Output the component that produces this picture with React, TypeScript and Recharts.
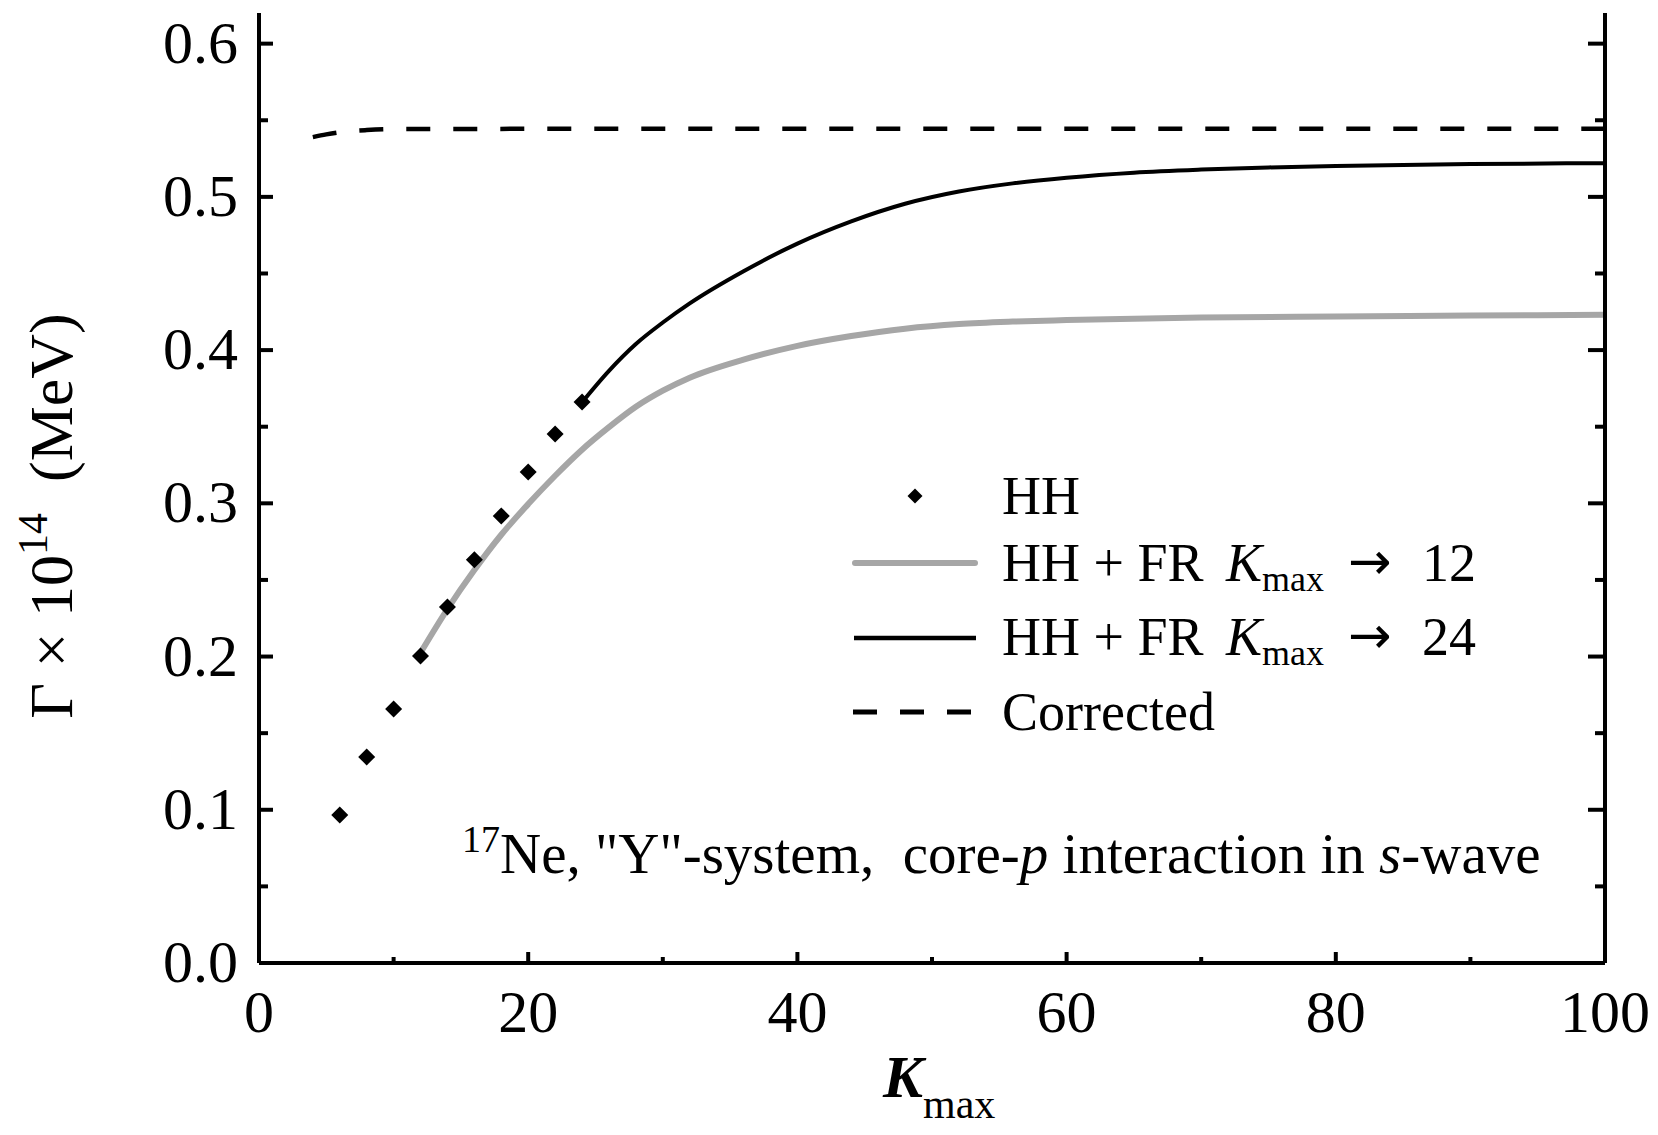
import React from 'react';
import { ComposedChart, Line, Scatter, XAxis, YAxis, Legend, Customized } from 'recharts';

const FONT = '"Liberation Serif", "Times New Roman", Times, serif';

// HH points
const hhK = [6, 8, 10, 12, 14, 16, 18, 20, 22, 24];
const hhValues = [0.0966, 0.1345, 0.1658, 0.2004, 0.2324, 0.2631, 0.2918, 0.3205, 0.3453, 0.3662];

// HH + FR, Kmax -> 12 (gray)
const fr12K = [12, 14, 16, 18, 20, 22, 24, 26, 28, 30, 32, 36, 40, 44, 48, 52, 56, 60, 70, 80, 90, 100];
const fr12Values = [0.2025, 0.231, 0.2565, 0.2795, 0.2995, 0.318, 0.335, 0.3497, 0.363, 0.3735, 0.382, 0.3938, 0.4028, 0.4092, 0.414, 0.417, 0.4186, 0.4196, 0.4212, 0.422, 0.4225, 0.423];

// HH + FR, Kmax -> 24 (black)
const fr24K = [24, 26, 28, 30, 32, 36, 40, 44, 48, 52, 56, 60, 65, 70, 75, 80, 90, 100];
const fr24Values = [0.366, 0.3865, 0.404, 0.418, 0.4305, 0.4515, 0.4695, 0.484, 0.4955, 0.5035, 0.5088, 0.5125, 0.5158, 0.5178, 0.5192, 0.5202, 0.5214, 0.522];

// Corrected (dashed)
const corrK = [4, 5, 6, 8, 10, 15, 20, 100];
const corrValues = [0.539, 0.5408, 0.5422, 0.5436, 0.5442, 0.5443, 0.5444, 0.5445];

// ticks
const xTicks = [0, 10, 20, 30, 40, 50, 60, 70, 80, 90, 100];
const xLabelTicks = [0, 20, 40, 60, 80, 100];
const yTicks = [0, 0.05, 0.1, 0.15, 0.2, 0.25, 0.3, 0.35, 0.4, 0.45, 0.5, 0.55, 0.6];
const yLabelTicks = [0, 0.1, 0.2, 0.3, 0.4, 0.5, 0.6];

const legendItems = [
  { key: 'hh', label: 'HH', kind: 'diamond' },
  { key: 'fr12', label: 'HH + FR', arrowTo: '12', kind: 'gray' },
  { key: 'fr24', label: 'HH + FR', arrowTo: '24', kind: 'black' },
  { key: 'corr', label: 'Corrected', kind: 'dashed' },
];

const toPoints = (ks: number[], vs: number[]) => ks.map((k, i) => ({ k, v: vs[i] }));
const hhData = toPoints(hhK, hhValues);
const fr12Data = toPoints(fr12K, fr12Values);
const fr24Data = toPoints(fr24K, fr24Values);
const corrData = toPoints(corrK, corrValues);

const isYLabel = (v: number) => yLabelTicks.some((t) => Math.abs(t - v) < 1e-9);
const isXLabel = (v: number) => xLabelTicks.includes(v);

const LeftTick = (props: any) => {
  const { x, y, payload } = props;
  const major = isYLabel(payload.value);
  return (
    <g>
      <line x1={x} x2={x + (major ? 14 : 9)} y1={y} y2={y} stroke="#000" strokeWidth={4} />
      {major && (
        <text x={x - 21} y={y + 19} textAnchor="end" fontSize={60} fontFamily={FONT} fill="#000">
          {payload.value.toFixed(1)}
        </text>
      )}
    </g>
  );
};

const RightTick = (props: any) => {
  const { x, y, payload } = props;
  const major = isYLabel(payload.value);
  return <line x1={x} x2={x - (major ? 17 : 10)} y1={y} y2={y} stroke="#000" strokeWidth={4} />;
};

const BottomTick = (props: any) => {
  const { x, y, payload } = props;
  const major = isXLabel(payload.value);
  return (
    <g>
      <line x1={x} x2={x} y1={y} y2={y - (major ? 11 : 6)} stroke="#000" strokeWidth={4} />
      {major && (
        <text x={x} y={y + 69} textAnchor="middle" fontSize={60} fontFamily={FONT} fill="#000">
          {payload.value}
        </text>
      )}
    </g>
  );
};

const Diamond = (props: any) => {
  const { cx, cy } = props;
  const r = 8.5;
  return <polygon points={`${cx},${cy - r} ${cx + r},${cy} ${cx},${cy + r} ${cx - r},${cy}`} fill="#000" />;
};

const YTitle = (props: any) => {
  const vb = props.viewBox || { x: 0, y: 5, width: 251, height: 950 };
  const cx = vb.x + 64;
  const cy = vb.y + vb.height / 2 + 28;
  return (
    <text x={cx} y={cy} transform={`rotate(-90 ${cx} ${cy})`} textAnchor="middle" fontSize={62} fontFamily={FONT} fill="#000">
      <tspan>{'Γ × 10'}</tspan>
      <tspan fontSize={42} dy={-25}>14</tspan>
      <tspan dy={25}>{'\u00A0\u00A0(MeV)'}</tspan>
    </text>
  );
};

const XTitle = (props: any) => {
  const vb = props.viewBox || { x: 251, y: 955, width: 1346, height: 164 };
  const x = vb.x + 624;
  const y = vb.y + 134;
  return (
    <text x={x} y={y} fontFamily={FONT} fill="#000">
      <tspan fontSize={60} fontStyle="italic" fontWeight="bold">K</tspan>
      <tspan fontSize={42} dy={21}>max</tspan>
    </text>
  );
};

const Annotation = () => (
  <text x={454} y={865} fontSize={57} fontFamily={FONT} fill="#000">
    <tspan fontSize={38} dy={-21}>17</tspan>
    <tspan dy={21}>{'Ne, "Y"-system,\u00A0\u00A0core-'}</tspan>
    <tspan fontStyle="italic">p</tspan>
    <tspan>{' interaction in '}</tspan>
    <tspan fontStyle="italic">s</tspan>
    <tspan>-wave</tspan>
  </text>
);

const renderLegend = () => {
  const rowY = [56, 123, 198, 272];
  const baseY = [74, 141, 215, 290];
  return (
    <svg width={720} height={320} style={{ display: 'block', overflow: 'visible' }}>
      {legendItems.map((it, i) => (
        <g key={it.key}>
          {it.kind === 'diamond' && (
            <polygon points={`75,${rowY[i] - 7.5} 82.5,${rowY[i]} 75,${rowY[i] + 7.5} 67.5,${rowY[i]}`} fill="#000" />
          )}
          {it.kind === 'gray' && (
            <line x1={15} x2={135} y1={rowY[i]} y2={rowY[i]} stroke="#a6a6a6" strokeWidth={6} strokeLinecap="round" />
          )}
          {it.kind === 'black' && <line x1={14} x2={136} y1={rowY[i]} y2={rowY[i]} stroke="#000" strokeWidth={4.5} />}
          {it.kind === 'dashed' && (
            <line x1={13} x2={137} y1={rowY[i]} y2={rowY[i]} stroke="#000" strokeWidth={5} strokeDasharray="24 23" />
          )}
          <text x={162} y={baseY[i]} fontSize={54} fontFamily={FONT} fill="#000">
            {it.label}
          </text>
          {it.arrowTo && (
            <>
              <text y={baseY[i]} fontSize={54} fontFamily={FONT} fill="#000">
                <tspan x={386} fontStyle="italic">K</tspan>
                <tspan fontSize={36} dy={10}>max</tspan>
              </text>
              <text x={508} y={baseY[i] - 2} fontSize={52} fontFamily='"DejaVu Sans", sans-serif' fill="#000">→</text>
              <text x={582} y={baseY[i]} fontSize={54} fontFamily={FONT} fill="#000">{it.arrowTo}</text>
            </>
          )}
        </g>
      ))}
    </svg>
  );
};

export default function App() {
  return (
    <div style={{ width: 1642, height: 1119, background: '#fff' }}>
      <ComposedChart width={1642} height={1119} margin={{ top: 5, right: 0, bottom: 0, left: 0 }}>
        <XAxis
          dataKey="k"
          type="number"
          domain={[0, 100]}
          ticks={xTicks}
          interval={0}
          allowDataOverflow
          height={164}
          tickSize={0}
          tickMargin={0}
          tickLine={false}
          tick={<BottomTick />}
          axisLine={{ stroke: '#000', strokeWidth: 4 }}
          label={{ content: XTitle }}
        />
        <XAxis
          xAxisId="top"
          orientation="top"
          type="number"
          domain={[0, 100]}
          allowDataOverflow
          height={0}
          tick={false}
          tickLine={false}
          axisLine={{ stroke: '#000', strokeWidth: 4 }}
        />
        <YAxis
          dataKey="v"
          type="number"
          domain={[0, 0.62]}
          ticks={yTicks}
          interval={0}
          allowDataOverflow
          width={251}
          tickSize={0}
          tickMargin={0}
          tickLine={false}
          tick={<LeftTick />}
          axisLine={{ stroke: '#000', strokeWidth: 4 }}
          label={{ content: YTitle }}
        />
        <YAxis
          yAxisId="right"
          orientation="right"
          type="number"
          domain={[0, 0.62]}
          ticks={yTicks}
          interval={0}
          allowDataOverflow
          width={45}
          tickSize={0}
          tickMargin={0}
          tickLine={false}
          tick={<RightTick />}
          axisLine={{ stroke: '#000', strokeWidth: 4 }}
        />
        <Line data={corrData} dataKey="v" type="monotone" stroke="#000" strokeWidth={4.5} strokeDasharray="24 23" dot={false} isAnimationActive={false} name="Corrected" />
        <Line data={fr12Data} dataKey="v" type="monotone" stroke="#a6a6a6" strokeWidth={6} dot={false} isAnimationActive={false} name="HH + FR 12" />
        <Line data={fr24Data} dataKey="v" type="monotone" stroke="#000" strokeWidth={4} dot={false} isAnimationActive={false} name="HH + FR 24" />
        <Scatter data={hhData} dataKey="v" shape={Diamond} isAnimationActive={false} name="HH" />
        <Customized component={Annotation} />
        <Legend
          content={renderLegend}
          layout="horizontal"
          verticalAlign="middle"
          align="center"
          wrapperStyle={{ left: 832, top: 432, width: 720, height: 320 }}
        />
      </ComposedChart>
    </div>
  );
}
